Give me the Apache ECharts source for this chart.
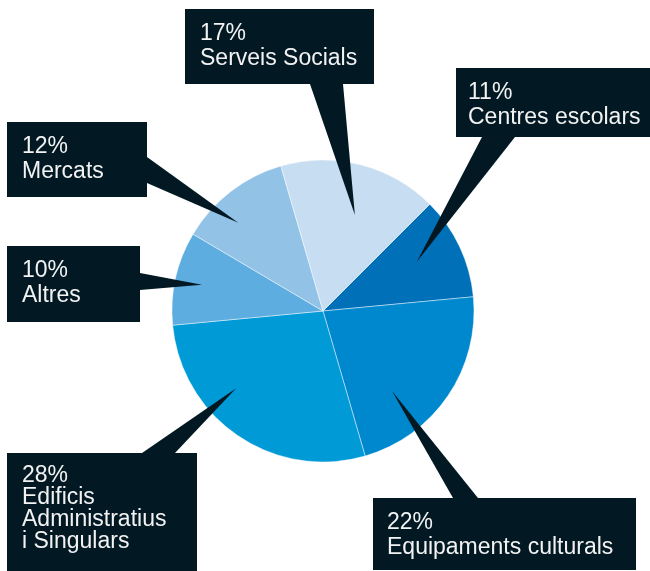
<!DOCTYPE html>
<html>
<head>
<meta charset="utf-8">
<script src="https://cdn.jsdelivr.net/npm/echarts@6/dist/echarts.min.js"></script>
<style>html,body{margin:0;padding:0;background:#fff}#c{width:650px;height:571px}</style>
</head>
<body>
<div id="c"></div>
<script>
// Data
const categories = ['Centres escolars', 'Equipaments culturals', 'Edificis\nAdministratius\ni Singulars', 'Altres', 'Mercats', 'Serveis Socials'];
const values = [11, 22, 28, 10, 12, 17];
const colors = ['#0070b9', '#0088cf', '#009ad7', '#5dade0', '#93c2e7', '#c7ddf2'];

// Layout of callouts (annotation boxes): [x, y, w, h]
const boxes = [[456, 68, 200, 69], [373, 498, 263, 72], [7, 453, 190, 118], [7, 246, 133, 76], [7, 122, 140, 75], [185, 9, 189, 75]];
// Pointer base points on the box edge
const bases = [[[482, 137], [515, 137]], [[453, 498], [478, 498]], [[142, 453], [175, 453]], [[140, 273], [140, 290]], [[147, 157], [147, 183]], [[310, 84], [343, 84]]];
// Pointer tip: [fraction along slice sweep, fraction of radius]
const tips = [[0.44, 0.70], [0.69, 0.70], [0.64, 0.77], [0.49, 0.82], [0.36, 0.81], [0.565, 0.67]];
const textPad = [12, 14, 15, 15, 15, 15];
const lineHeights = [25, 25, 22, 25, 25, 25];

const CX = 323, CY = 311, R = 151, START = 45;
const BOX = '#021924';

const chart = echarts.init(document.getElementById('c'));
const total = values.reduce((a, b) => a + b, 0);
const graphics = [];
let acc = 0;
values.forEach((v, i) => {
  const a0 = START - acc / total * 360;
  const sweep = v / total * 360;
  acc += v;
  const a = (a0 - tips[i][0] * sweep) * Math.PI / 180;
  const tx = CX + Math.cos(a) * R * tips[i][1];
  const ty = CY - Math.sin(a) * R * tips[i][1];
  const b = boxes[i];
  graphics.push({
    type: 'rect', z: 100, shape: {x: b[0], y: b[1], width: b[2], height: b[3]},
    style: {fill: BOX}, silent: true
  });
  graphics.push({
    type: 'polygon', z: 100, shape: {points: [bases[i][0], bases[i][1], [tx, ty]]},
    style: {fill: BOX}, silent: true
  });
  graphics.push({
    type: 'text', z: 101, x: b[0] + textPad[i], y: b[1] + 12,
    style: {
      text: v + '%\n' + categories[i], fill: '#f2f2f2',
      fontSize: 23, fontFamily: 'Liberation Sans', lineHeight: lineHeights[i],
      align: 'left', verticalAlign: 'top'
    }, silent: true
  });
});

chart.setOption({
  animation: false,
  series: [{
    type: 'pie',
    center: [CX, CY],
    radius: R,
    startAngle: START,
    clockwise: true,
    silent: true,
    label: {show: false},
    labelLine: {show: false},
    itemStyle: {borderColor: 'rgba(255,255,255,0.55)', borderWidth: 0.8},
    emphasis: {disabled: true},
    data: categories.map((c, i) => ({name: c, value: values[i], itemStyle: {color: colors[i]}}))
  }],
  graphic: graphics
});
</script>
</body>
</html>
